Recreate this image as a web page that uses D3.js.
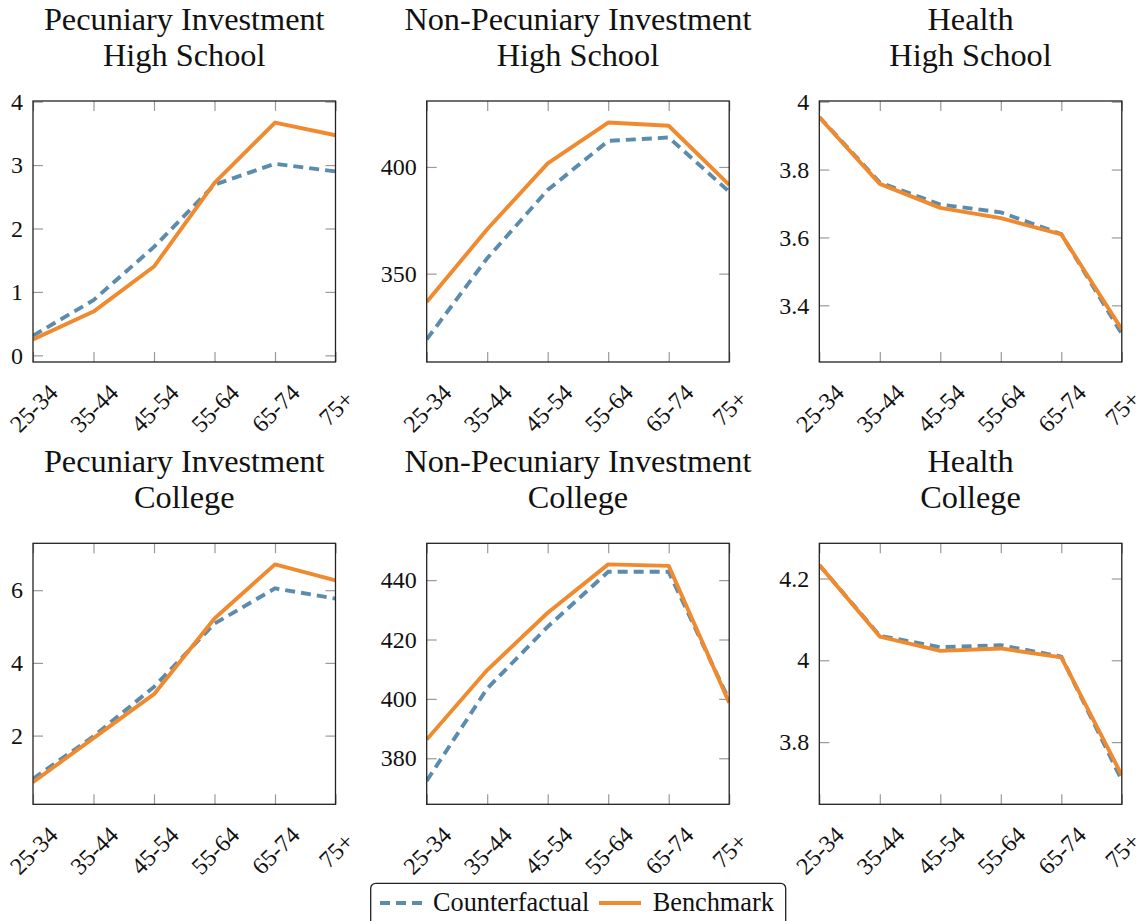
<!DOCTYPE html>
<html><head><meta charset="utf-8">
<script src="https://cdn.jsdelivr.net/npm/d3@7"></script>
<style>
body{margin:0;background:#fff;}
svg{display:block;}
text{font-family:"Liberation Serif","Times New Roman",serif;fill:#111;}
</style></head>
<body>
<svg id="chart" width="1140" height="921"></svg>
<script>
const categories = ["25-34","35-44","45-54","55-64","65-74","75+"];

const titles = [
  ["Pecuniary Investment","High School"],
  ["Non-Pecuniary Investment","High School"],
  ["Health","High School"],
  ["Pecuniary Investment","College"],
  ["Non-Pecuniary Investment","College"],
  ["Health","College"]
];

const counterfactualPecHS = [0.31, 0.87, 1.71, 2.69, 3.02, 2.90];
const benchmarkPecHS      = [0.25, 0.69, 1.40, 2.72, 3.67, 3.47];
const counterfactualNonHS = [319.2, 357.2, 389.2, 412.2, 413.8, 388.4];
const benchmarkNonHS      = [336.7, 370.8, 401.7, 420.8, 419.3, 391.6];
const counterfactualHeaHS = [3.955, 3.762, 3.697, 3.674, 3.610, 3.316];
const benchmarkHeaHS      = [3.954, 3.758, 3.687, 3.657, 3.609, 3.329];
const counterfactualPecCo = [0.81, 1.98, 3.34, 5.08, 6.05, 5.77];
const benchmarkPecCo      = [0.72, 1.93, 3.14, 5.22, 6.71, 6.27];
const counterfactualNonCo = [372.4, 403.5, 424.3, 442.8, 442.8, 399.5];
const benchmarkNonCo      = [386.3, 409.7, 429.0, 445.3, 444.8, 398.7];
const counterfactualHeaCo = [4.233, 4.060, 4.032, 4.037, 4.009, 3.707];
const benchmarkHeaCo      = [4.233, 4.058, 4.023, 4.029, 4.007, 3.719];

const yDomains = [[-0.105, 4.01],[308.6, 430.9],[3.233, 4.002],[0.11, 7.29],[364.5, 452.4],[3.648, 4.286]];
const yTicks = [[0,1,2,3,4],[350,400],[3.4,3.6,3.8,4],[2,4,6],[380,400,420,440],[3.8,4,4.2]];

const seriesNames = ["Counterfactual","Benchmark"];

const panels = [
  [counterfactualPecHS, benchmarkPecHS],
  [counterfactualNonHS, benchmarkNonHS],
  [counterfactualHeaHS, benchmarkHeaHS],
  [counterfactualPecCo, benchmarkPecCo],
  [counterfactualNonCo, benchmarkNonCo],
  [counterfactualHeaCo, benchmarkHeaCo]
];

const colX = [33, 426.7, 819.3];
const rowY = [101, 543.3];
const pw = 302.5, ph = 261;
const blue = "#5b8bad", orange = "#f08a2e";
const tickColor = "#9a9a9a";
const lw = 3.9;

const svg = d3.select("#chart");
const defs = svg.append("defs");

panels.forEach((series, i) => {
  const col = i % 3, row = Math.floor(i / 3);
  const x0 = colX[col], y0 = rowY[row];
  const g = svg.append("g").attr("transform", `translate(${x0},${y0})`);
  const x = d3.scalePoint().domain(categories).range([0, pw]).padding(0);
  const y = d3.scaleLinear().domain(yDomains[i]).range([ph, 0]);

  // titles
  const t = svg.append("text").attr("text-anchor","middle")
    .attr("font-size", 32.3);
  titles[i].forEach((line, k) => {
    t.append("tspan").attr("x", x0 + pw/2).attr("y", y0 - 71 + k*36).text(line);
  });

  const styleAxis = a => {
    a.select(".domain").remove();
    a.selectAll(".tick line").attr("stroke", tickColor).attr("stroke-width", 1.2);
  };

  const fontFam = '"Liberation Serif","Times New Roman",serif';
  // axes with inward ticks
  const left = g.append("g").call(d3.axisLeft(y).tickValues(yTicks[i]).tickFormat(d => String(d)).tickSize(-10).tickPadding(10));
  styleAxis(left);
  left.selectAll("text").attr("font-size", 24).attr("fill","#111").attr("font-family",fontFam);
  const right = g.append("g").attr("transform",`translate(${pw},0)`).call(d3.axisRight(y).tickValues(yTicks[i]).tickFormat("").tickSize(-10));
  styleAxis(right);
  const bottom = g.append("g").attr("transform",`translate(0,${ph})`).call(d3.axisBottom(x).tickSize(-10));
  styleAxis(bottom);
  bottom.selectAll("text").attr("font-size", 24).attr("fill","#111").attr("font-family",fontFam)
    .attr("y", 0).attr("dy","0.35em").attr("text-anchor","middle")
    .attr("transform","translate(0,46) rotate(-45)");
  const top = g.append("g").call(d3.axisTop(x).tickFormat("").tickSize(-10));
  styleAxis(top);

  // clip
  defs.append("clipPath").attr("id","clip"+i).append("rect").attr("width", pw).attr("height", ph);

  const line = d3.line().x((d, k) => x(categories[k])).y(d => y(d));
  const plot = g.append("g").attr("clip-path", `url(#clip${i})`);
  plot.append("path").datum(series[0]).attr("d", line).attr("fill","none")
    .attr("stroke", blue).attr("stroke-width", lw).attr("stroke-dasharray","10,6");
  plot.append("path").datum(series[1]).attr("d", line).attr("fill","none")
    .attr("stroke", orange).attr("stroke-width", lw).attr("stroke-linejoin","round");

  // frame
  g.append("rect").attr("width", pw).attr("height", ph).attr("fill","none")
    .attr("stroke","#222").attr("stroke-width",1.3);
});

// legend
const lg = svg.append("g");
lg.append("rect").attr("x", 370.7).attr("y", 883.3).attr("width", 415).attr("height", 60).attr("rx", 5)
  .attr("fill","#fff").attr("stroke","#222").attr("stroke-width",1.3);
const legendItems = [
  {name: seriesNames[0], color: blue, dash: "10,6", lx: 380, tx: 433},
  {name: seriesNames[1], color: orange, dash: null, lx: 599, tx: 652.7}
];
legendItems.forEach(it => {
  lg.append("line").attr("x1", it.lx).attr("x2", it.lx + 42).attr("y1", 903).attr("y2", 903)
    .attr("stroke", it.color).attr("stroke-width", lw).attr("stroke-dasharray", it.dash);
  lg.append("text").attr("x", it.tx).attr("y", 911).attr("font-size", 26.3).text(it.name);
});
</script>
</body></html>
